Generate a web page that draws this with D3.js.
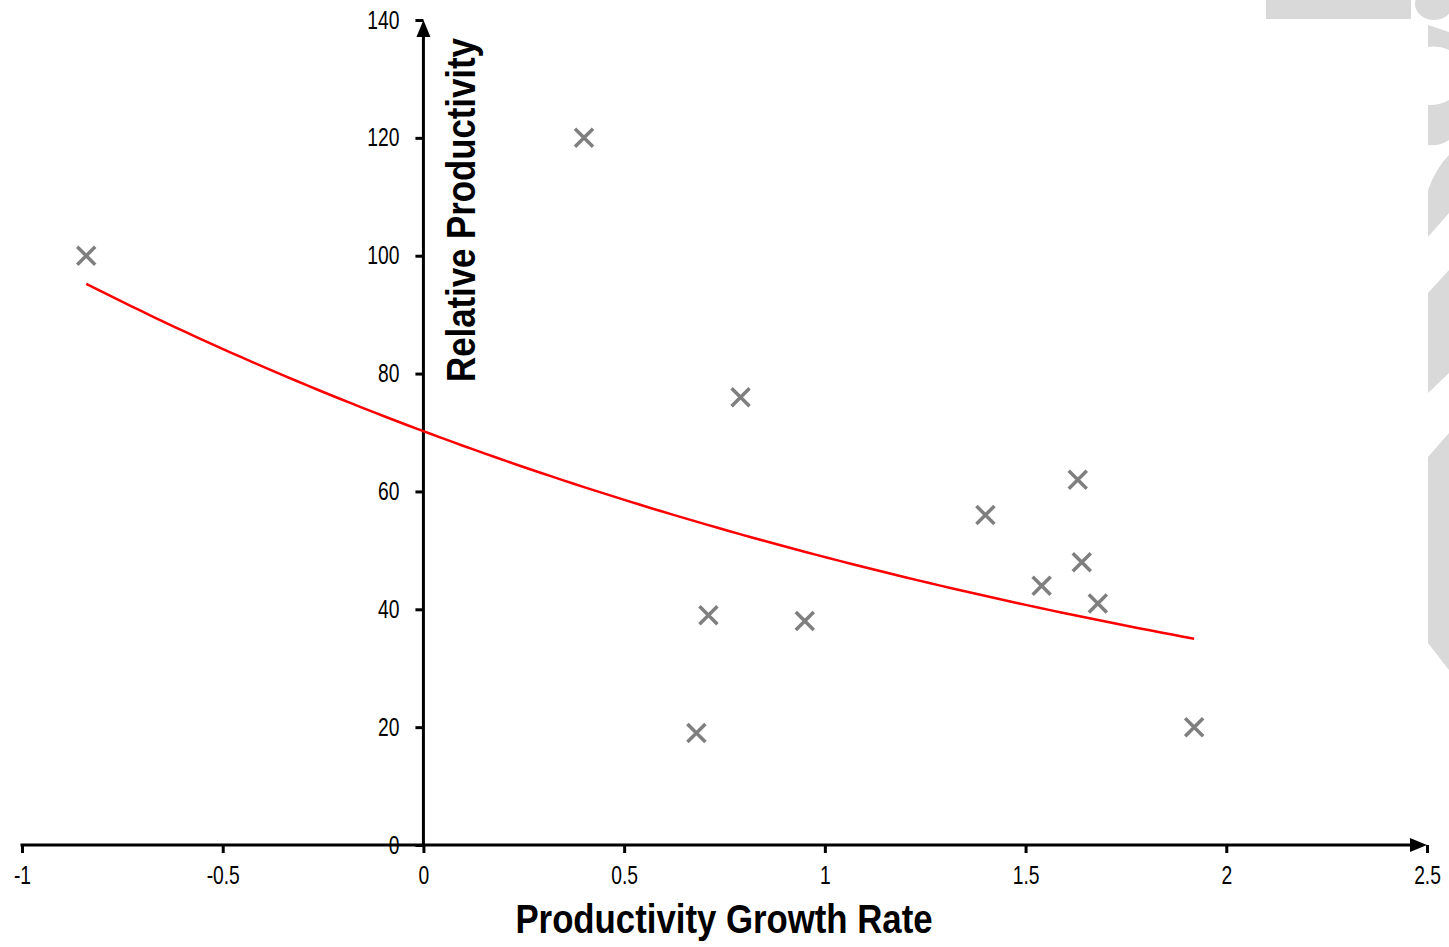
<!DOCTYPE html>
<html><head><meta charset="utf-8">
<script src="https://cdn.jsdelivr.net/npm/d3@7"></script>
<style>
body{margin:0;background:#fff}
text{font-family:"Liberation Sans Narrow","Arial Narrow","Liberation Sans",Arial,sans-serif}
</style>
</head><body><svg id="c" width="1449" height="947"></svg>
<script>
// ---- data ----
const growthRate      = [-0.84, 0.40, 0.79, 1.40, 1.63, 1.64, 1.54, 1.68, 0.71, 0.95, 0.68, 1.92];
const relProductivity = [100,   120,  76,   56,   62,   48,   44,   41,   39,   38,   19,   20];
const xTicks = [-1, -0.5, 0, 0.5, 1, 1.5, 2, 2.5];
const yTicks = [0, 20, 40, 60, 80, 100, 120, 140];
const xTitle = "Productivity Growth Rate";
const yTitle = "Relative Productivity";

const svg = d3.select("#c");
const SX = 0.77; // horizontal condensation (narrow face look)

// decorative background shapes (slide template)
const deco = svg.append("g").attr("fill", "#d9d9d9");
deco.append("rect").attr("x", 1266).attr("y", 0).attr("width", 145).attr("height", 19);
deco.append("ellipse").attr("cx", 1434).attr("cy", 4).attr("rx", 19).attr("ry", 16);
deco.append("path").attr("d",
  "M1428,25 L1449,32 L1449,50 A38,38 0 0 0 1428,47 Z " +
  "M1428,105 A38,38 0 0 0 1449,100 L1449,140 A30,30 0 0 1 1428,145 Z " +
  "M1449,155 L1449,213 L1428,237 L1428,190 Q1436,168 1449,155 Z " +
  "M1449,270 L1449,373 L1428,393 L1428,293 Z " +
  "M1449,433 L1449,670 L1428,643 L1428,457 Z");

// scales
const x = d3.scaleLinear().domain([-1, 2.5]).range([22, 1427]);
const y = d3.scaleLinear().domain([0, 140]).range([845, 20]);

const fmt = d => String(d);

// x axis ticks + labels
const gx = svg.append("g").attr("transform", `translate(0,${y(0)})`)
  .call(d3.axisBottom(x).tickValues(xTicks).tickSize(8).tickPadding(13).tickFormat(fmt));
gx.select(".domain").remove();
gx.selectAll(".tick line").attr("stroke", "#000").attr("stroke-width", 3);
gx.selectAll(".tick text").attr("fill", "#000").style("font-size", "25px")
  .attr("transform", `scale(${SX},1)`);

// y axis ticks + labels
const gy = svg.append("g").attr("transform", `translate(${x(0)},0)`)
  .call(d3.axisLeft(y).tickValues(yTicks).tickSize(8).tickPadding(16).tickFormat(fmt));
gy.select(".domain").remove();
gy.selectAll(".tick line").attr("stroke", "#000").attr("stroke-width", 3);
gy.selectAll(".tick text").attr("fill", "#000").style("font-size", "25px")
  .attr("x", -24 / SX).attr("transform", `scale(${SX},1)`);

// axis lines with arrowheads
const ax = svg.append("g");
ax.append("line").attr("x1", x(-1) - 1.5).attr("x2", x(2.5) - 8).attr("y1", y(0)).attr("y2", y(0))
  .attr("stroke", "#000").attr("stroke-width", 3);
ax.append("path").attr("d", `M${x(2.5)},${y(0)} l-17,-7 l0,14 Z`).attr("fill", "#000");
ax.append("line").attr("x1", x(0)).attr("x2", x(0)).attr("y1", y(0)).attr("y2", y(140) + 8)
  .attr("stroke", "#000").attr("stroke-width", 3);
ax.append("path").attr("d", `M${x(0)},${y(140)} l-7,17 l14,0 Z`).attr("fill", "#000");

// exponential trendline (least squares on ln y)
const n = growthRate.length;
const mx = d3.mean(growthRate);
const ly = relProductivity.map(Math.log);
const my = d3.mean(ly);
let sxy = 0, sxx = 0;
for (let i = 0; i < n; i++) { sxy += (growthRate[i]-mx)*(ly[i]-my); sxx += (growthRate[i]-mx)**2; }
const b = sxy / sxx, a = Math.exp(my - b*mx);
const [xmin, xmax] = d3.extent(growthRate);
const trend = d3.range(0, 101).map(k => { const xv = xmin + (xmax-xmin)*k/100; return [xv, a*Math.exp(b*xv)]; });
svg.append("path").datum(trend)
  .attr("d", d3.line().x(d => x(d[0])).y(d => y(d[1])))
  .attr("fill", "none").attr("stroke", "#ff0000").attr("stroke-width", 2.5);

// markers
const pts = growthRate.map((g, i) => ({g, p: relProductivity[i]}));
const s = 9;
svg.append("g").selectAll("path").data(pts).join("path")
  .attr("d", d => `M${x(d.g)-s},${y(d.p)-s}L${x(d.g)+s},${y(d.p)+s}M${x(d.g)-s},${y(d.p)+s}L${x(d.g)+s},${y(d.p)-s}`)
  .attr("stroke", "#7f7f7f").attr("stroke-width", 3.5).attr("fill", "none");

// titles
const TS = 0.848;
svg.append("text").attr("transform", `translate(724,933) scale(${TS},1)`).attr("text-anchor", "middle")
  .style("font-size", "41px").style("font-weight", "bold").attr("fill", "#000").text(xTitle);
svg.append("text").attr("transform", `translate(475,210) rotate(-90) scale(${TS},1)`).attr("text-anchor", "middle")
  .style("font-size", "41px").style("font-weight", "bold").attr("fill", "#000").text(yTitle);
</script>
</body></html>
